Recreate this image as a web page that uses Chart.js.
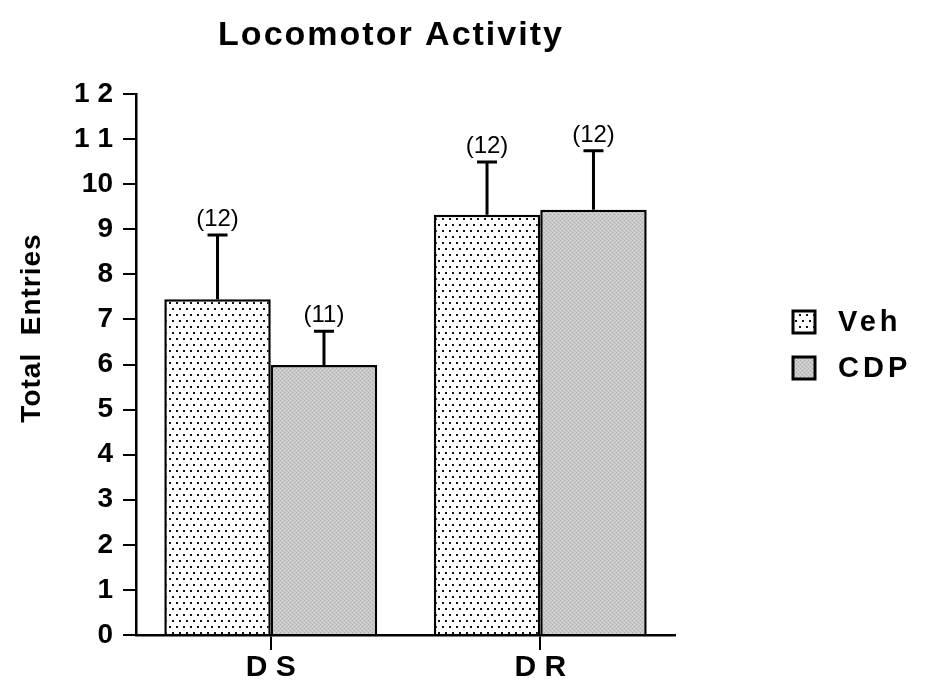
<!DOCTYPE html>
<html lang="en">
<head>
    <meta charset="UTF-8">
    <title>Locomotor Activity</title>
    <script src="https://cdn.jsdelivr.net/npm/chart.js"></script>
    <style>
        body { margin: 0; background: #fff; }
        #wrap { width: 951px; height: 687px; }
    </style>
</head>
<body>
    <div id="wrap"><canvas id="loco-chart" width="951" height="687"></canvas></div>

    <script>
        // values
        const categories = ['D S', 'D R'];
        const seriesNames = ['Veh', 'CDP'];
        const vehMeans = [7.45, 9.32];
        const vehErrors = [1.42, 1.17];
        const cdpMeans = [5.99, 9.43];
        const cdpErrors = [0.75, 1.31];
        const vehCounts = ['(12)', '(12)'];
        const cdpCounts = ['(11)', '(12)'];
        const yTickLabels = ['0', '1', '2', '3', '4', '5', '6', '7', '8', '9', '10', '1 1', '1 2'];

        const FONT = '"Liberation Sans", Arial, sans-serif';

        function dotPattern() {
            const c = document.createElement('canvas');
            c.width = 7; c.height = 12;
            const g = c.getContext('2d');
            g.fillStyle = '#fff';
            g.fillRect(0, 0, 7, 12);
            g.fillStyle = '#111';
            g.fillRect(1, 2, 2, 2);
            g.fillRect(4, 8, 2, 2);
            return g.createPattern(c, 'repeat');
        }

        function grayPattern() {
            const c = document.createElement('canvas');
            c.width = 4; c.height = 4;
            const g = c.getContext('2d');
            g.fillStyle = '#c8c8c8';
            g.fillRect(0, 0, 4, 4);
            g.fillStyle = '#a9a9a9';
            g.fillRect(0, 0, 1, 1);
            g.fillRect(2, 2, 1, 1);
            g.fillStyle = '#dedede';
            g.fillRect(2, 0, 1, 1);
            g.fillRect(0, 2, 1, 1);
            return g.createPattern(c, 'repeat');
        }

        const errors = [vehErrors, cdpErrors];
        const counts = [vehCounts, cdpCounts];

        // error bars (upper half only) and group sizes
        const errorBarPlugin = {
            id: 'errorBars',
            afterDatasetsDraw(chart) {
                const ctx = chart.ctx;
                const y = chart.scales.y;
                ctx.save();
                ctx.strokeStyle = '#000';
                ctx.lineWidth = 3;
                ctx.fillStyle = '#000';
                ctx.font = '24px ' + FONT;
                ctx.textAlign = 'center';
                ctx.textBaseline = 'alphabetic';
                chart.data.datasets.forEach((ds, di) => {
                    chart.getDatasetMeta(di).data.forEach((bar, i) => {
                        const top = y.getPixelForValue(ds.data[i] + errors[di][i]);
                        ctx.beginPath();
                        ctx.moveTo(bar.x, bar.y);
                        ctx.lineTo(bar.x, top);
                        ctx.moveTo(bar.x - 10, top);
                        ctx.lineTo(bar.x + 10, top);
                        ctx.stroke();
                        ctx.fillText(counts[di][i], bar.x, top - 9);
                    });
                });
                ctx.restore();
            },
            afterDraw(chart) {
                const ctx = chart.ctx;
                ctx.save();
                ctx.fillStyle = '#000';
                // title
                ctx.font = 'bold 34px ' + FONT;
                ctx.letterSpacing = '2px';
                ctx.textAlign = 'center';
                ctx.textBaseline = 'middle';
                ctx.fillText('Locomotor Activity', 391, 36);
                // y axis title
                ctx.save();
                ctx.translate(32, 328);
                ctx.rotate(-Math.PI / 2);
                ctx.font = 'bold 28px ' + FONT;
                ctx.letterSpacing = '1px';
                ctx.fillText('Total  Entries', 0, 0);
                ctx.restore();
                // legend
                ctx.font = 'bold 29px ' + FONT;
                ctx.letterSpacing = '4px';
                ctx.textAlign = 'left';
                const rows = [322, 368];
                chart.data.datasets.forEach((ds, di) => {
                    const cy = rows[di];
                    ctx.fillStyle = ds.backgroundColor;
                    ctx.fillRect(793, cy - 11, 22, 22);
                    ctx.lineWidth = 3;
                    ctx.strokeStyle = '#000';
                    ctx.strokeRect(793, cy - 11, 22, 22);
                    ctx.fillStyle = '#000';
                    ctx.fillText(ds.label, 838, cy + 1);
                });
                ctx.restore();
            }
        };

        const ctx = document.getElementById('loco-chart').getContext('2d');
        new Chart(ctx, {
            type: 'bar',
            data: {
                labels: categories,
                datasets: [
                    { label: seriesNames[0], data: vehMeans, backgroundColor: dotPattern() },
                    { label: seriesNames[1], data: cdpMeans, backgroundColor: grayPattern() }
                ]
            },
            options: {
                responsive: false,
                animation: false,
                layout: { padding: { top: 94, right: 276, left: 0, bottom: 0 } },
                datasets: {
                    bar: {
                        borderColor: '#000',
                        borderWidth: 2.5,
                        borderSkipped: 'bottom',
                        categoryPercentage: 0.79,
                        barPercentage: 1.0
                    }
                },
                plugins: {
                    legend: { display: false },
                    tooltip: { enabled: false }
                },
                scales: {
                    x: {
                        grid: { offset: false, drawOnChartArea: false, drawTicks: true, tickLength: 15, color: '#000', lineWidth: 2 },
                        border: { color: '#000', width: 2.5 },
                        ticks: { color: '#000', padding: 0, font: { family: FONT, size: 30, weight: 'bold' } },
                        afterFit(scale) { scale.height = 52; }
                    },
                    y: {
                        min: 0,
                        max: 12,
                        grid: { drawOnChartArea: false, drawTicks: true, tickLength: 13, color: '#000', lineWidth: 2 },
                        border: { color: '#000', width: 2.5 },
                        ticks: {
                            stepSize: 1,
                            color: '#000',
                            padding: 10,
                            font: { family: FONT, size: 28, weight: 'bold' },
                            callback: (value, index) => yTickLabels[index]
                        },
                        afterFit(scale) { scale.width = 136; }
                    }
                }
            },
            plugins: [errorBarPlugin]
        });
    </script>
</body>
</html>
